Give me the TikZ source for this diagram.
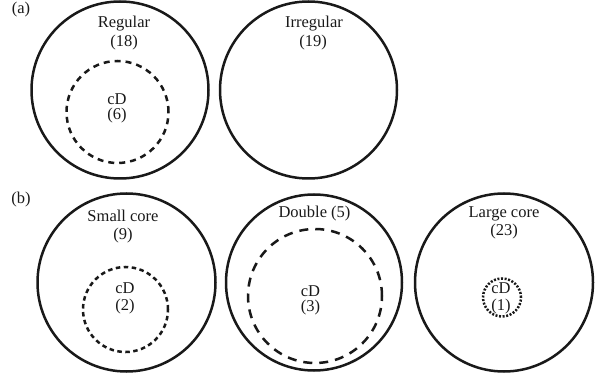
\documentclass[tikz,border=0pt]{standalone}
\usepackage{fontspec}
\setmainfont{Liberation Serif}
\begin{document}
\begin{tikzpicture}[x=1pt,y=-1pt,
  outer/.style={draw=black!90, line width=2.5pt, circle, inner sep=0pt},
  inner/.style={draw=black!90, line width=2.5pt, circle, inner sep=0pt},
  lbl/.style={anchor=base, inner sep=0pt, font=\fontsize{16.5}{19}\selectfont, text=black!90}]
\useasboundingbox (0,0) rectangle (602,379);
% (a)
\node[lbl] (la) at (21,14) {(a)};
\node[outer, minimum size=177pt] (reg) at (120,90) {};
\node[inner, minimum size=102pt, dash pattern=on 6pt off 5pt] (regcd) at (117.5,112) {};
\node[lbl] (regt) at (124,28) {Regular};
\node[lbl] (regn) at (124,47) {(18)};
\node[lbl] (regcdt) at (117,105) {cD};
\node[lbl] (regcdn) at (117,120) {(6)};
\node[outer, minimum size=177pt] (irr) at (308.5,90) {};
\node[lbl] (irrt) at (314,28) {Irregular};
\node[lbl] (irrn) at (313,47) {(19)};
% (b)
\node[lbl] (lb) at (21,204) {(b)};
\node[outer, minimum size=178pt] (sc) at (126.5,282.5) {};
\node[inner, minimum size=85pt, dash pattern=on 4.5pt off 3.5pt] (sccd) at (125.5,309.5) {};
\node[lbl] (sct) at (123,222) {Small core};
\node[lbl] (scn) at (123,240) {(9)};
\node[lbl] (sccdt) at (125,293) {cD};
\node[lbl] (sccdn) at (125,310) {(2)};
\node[outer, minimum size=176pt] (db) at (314,282.5) {};
\node[inner, minimum size=134pt, dash pattern=on 9pt off 7pt] (dbcd) at (315,296) {};
\node[lbl] (dbt) at (314.5,218) {Double (5)};
\node[lbl] (dbcdt) at (310.5,296) {cD};
\node[lbl] (dbcdn) at (310.5,311) {(3)};
\node[outer, minimum size=178pt] (lc) at (504,282.5) {};
\node[inner, minimum size=38pt, dash pattern=on 2pt off 1.6pt] (lccd) at (502,297.5) {};
\node[lbl] (lct) at (504,218) {Large core};
\node[lbl] (lcn) at (504,236) {(23)};
\node[lbl] (lccdt) at (501,293) {cD};
\node[lbl] (lccdn) at (501,310) {(1)};
\end{tikzpicture}
\end{document}
